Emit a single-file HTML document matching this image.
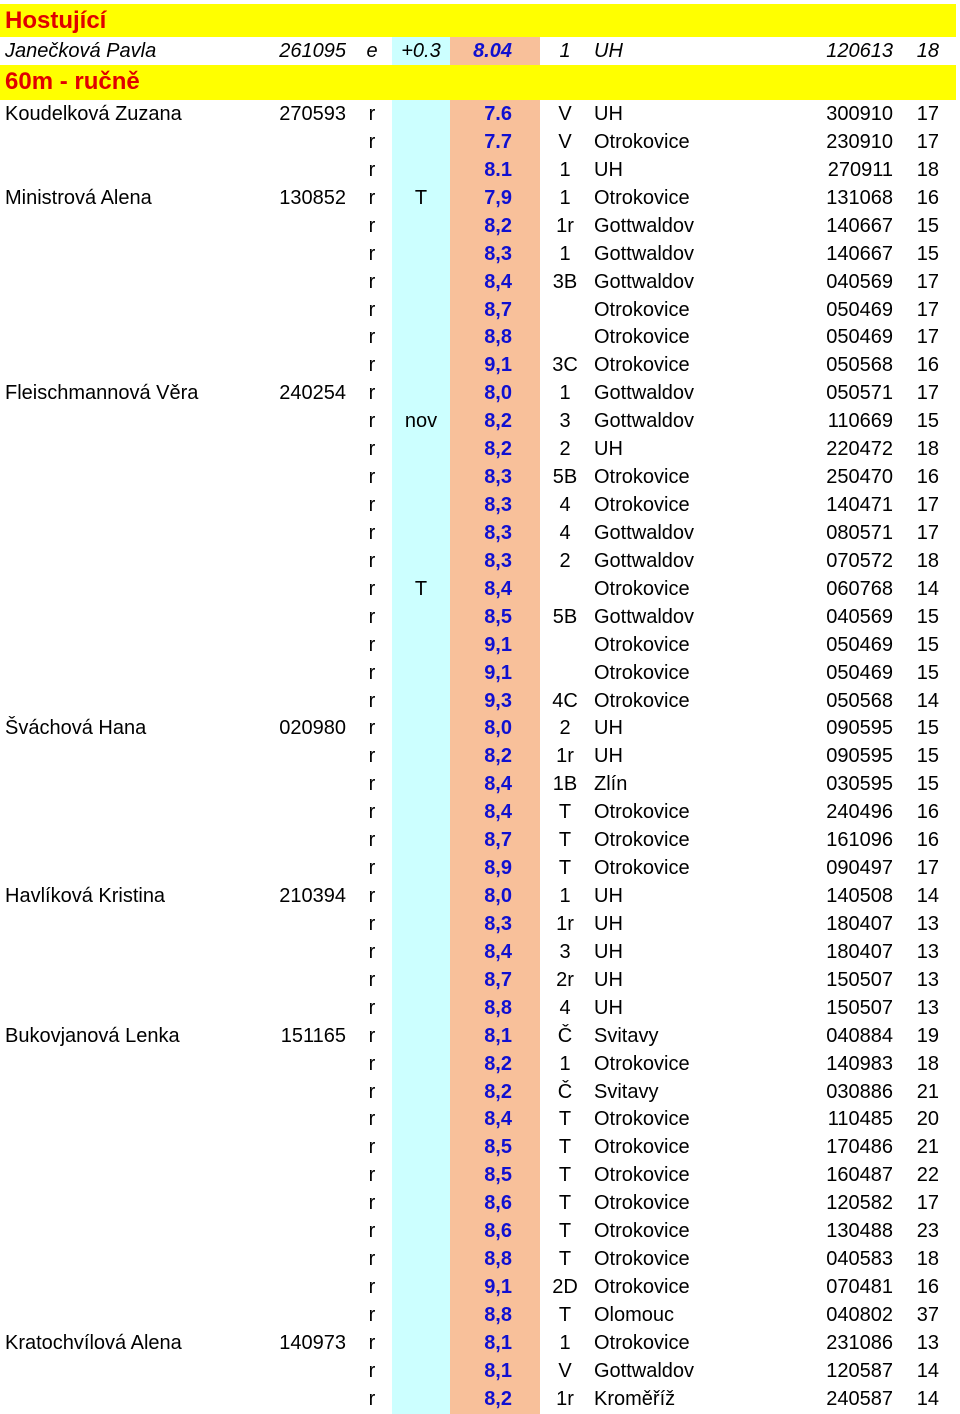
<!DOCTYPE html>
<html><head><meta charset="utf-8">
<style>
html,body{margin:0;padding:0;background:#fff;}
body{width:960px;height:1414px;position:relative;overflow:hidden;font-family:"Liberation Sans",Arial,sans-serif;font-size:20px;color:#000;}
.band{position:absolute;}
.c{position:absolute;white-space:nowrap;line-height:28px;height:28px;}
.hdr{position:absolute;left:0;width:956px;background:#ffff00;color:#e00000;font-weight:bold;font-size:24px;line-height:34px;padding-left:5px;box-sizing:border-box;}
.t{color:#1010d0;font-weight:bold;}
</style></head>
<body>
<div class="band" style="left:392px;top:100px;width:58px;height:1314px;background:#ccffff"></div>
<div class="band" style="left:450px;top:100px;width:90px;height:1314px;background:#f8c09a"></div>
<div class="hdr" style="top:4px;height:33px;">Hostující</div>
<div class="band" style="left:392px;top:37px;width:58px;height:28px;background:#ccffff"></div>
<div class="band" style="left:450px;top:37px;width:90px;height:28px;background:#f8c09a"></div>
<div class="hdr" style="top:65px;height:35px;">60m - ručně</div>
<div id="rows"></div>
<script>
const guest = ["Janečková Pavla","261095","e","+0.3","8.04","1","UH","120613","18"];
const rows = [
["Koudelková Zuzana","270593","r","","7.6","V","UH","300910","17"],
["","","r","","7.7","V","Otrokovice","230910","17"],
["","","r","","8.1","1","UH","270911","18"],
["Ministrová Alena","130852","r","T","7,9","1","Otrokovice","131068","16"],
["","","r","","8,2","1r","Gottwaldov","140667","15"],
["","","r","","8,3","1","Gottwaldov","140667","15"],
["","","r","","8,4","3B","Gottwaldov","040569","17"],
["","","r","","8,7","","Otrokovice","050469","17"],
["","","r","","8,8","","Otrokovice","050469","17"],
["","","r","","9,1","3C","Otrokovice","050568","16"],
["Fleischmannová Věra","240254","r","","8,0","1","Gottwaldov","050571","17"],
["","","r","nov","8,2","3","Gottwaldov","110669","15"],
["","","r","","8,2","2","UH","220472","18"],
["","","r","","8,3","5B","Otrokovice","250470","16"],
["","","r","","8,3","4","Otrokovice","140471","17"],
["","","r","","8,3","4","Gottwaldov","080571","17"],
["","","r","","8,3","2","Gottwaldov","070572","18"],
["","","r","T","8,4","","Otrokovice","060768","14"],
["","","r","","8,5","5B","Gottwaldov","040569","15"],
["","","r","","9,1","","Otrokovice","050469","15"],
["","","r","","9,1","","Otrokovice","050469","15"],
["","","r","","9,3","4C","Otrokovice","050568","14"],
["Šváchová Hana","020980","r","","8,0","2","UH","090595","15"],
["","","r","","8,2","1r","UH","090595","15"],
["","","r","","8,4","1B","Zlín","030595","15"],
["","","r","","8,4","T","Otrokovice","240496","16"],
["","","r","","8,7","T","Otrokovice","161096","16"],
["","","r","","8,9","T","Otrokovice","090497","17"],
["Havlíková Kristina","210394","r","","8,0","1","UH","140508","14"],
["","","r","","8,3","1r","UH","180407","13"],
["","","r","","8,4","3","UH","180407","13"],
["","","r","","8,7","2r","UH","150507","13"],
["","","r","","8,8","4","UH","150507","13"],
["Bukovjanová Lenka","151165","r","","8,1","Č","Svitavy","040884","19"],
["","","r","","8,2","1","Otrokovice","140983","18"],
["","","r","","8,2","Č","Svitavy","030886","21"],
["","","r","","8,4","T","Otrokovice","110485","20"],
["","","r","","8,5","T","Otrokovice","170486","21"],
["","","r","","8,5","T","Otrokovice","160487","22"],
["","","r","","8,6","T","Otrokovice","120582","17"],
["","","r","","8,6","T","Otrokovice","130488","23"],
["","","r","","8,8","T","Otrokovice","040583","18"],
["","","r","","9,1","2D","Otrokovice","070481","16"],
["","","r","","8,8","T","Olomouc","040802","37"],
["Kratochvílová Alena","140973","r","","8,1","1","Otrokovice","231086","13"],
["","","r","","8,1","V","Gottwaldov","120587","14"],
["","","r","","8,2","1r","Kroměříž","240587","14"]
];
const colNames = ["athlete-name","birth-date","timing-type","wind","time","place","venue","race-date","age"];
// [anchor x, align]
const cols = [[5,"l"],[346,"r"],[372,"c"],[421,"c"],[512,"r"],[565,"c"],[594,"l"],[893,"r"],[939,"r"]];
const root = document.getElementById("rows");
function cell(txt, ci, top, italic){
  const d = document.createElement("div");
  d.className = "c" + (ci===4 ? " t" : "");
  
  
  const [x,a] = cols[ci];
  d.style.top = top + "px";
  if (a==="l") d.style.left = x + "px";
  else if (a==="r") d.style.right = (960 - x) + "px";
  else { d.style.left = (x-40) + "px"; d.style.width = "80px"; d.style.textAlign = "center"; }
  if (italic) d.style.fontStyle = "italic";
  d.textContent = txt;
  root.appendChild(d);
}
guest.forEach((v,ci)=>{ if(v) cell(v, ci, 37, true); });
rows.forEach((r,i)=>{
  const top = 100 + i*27.93;
  r.forEach((v,ci)=>{ if(v) cell(v, ci, top, false); });
});
</script>
</body></html>
